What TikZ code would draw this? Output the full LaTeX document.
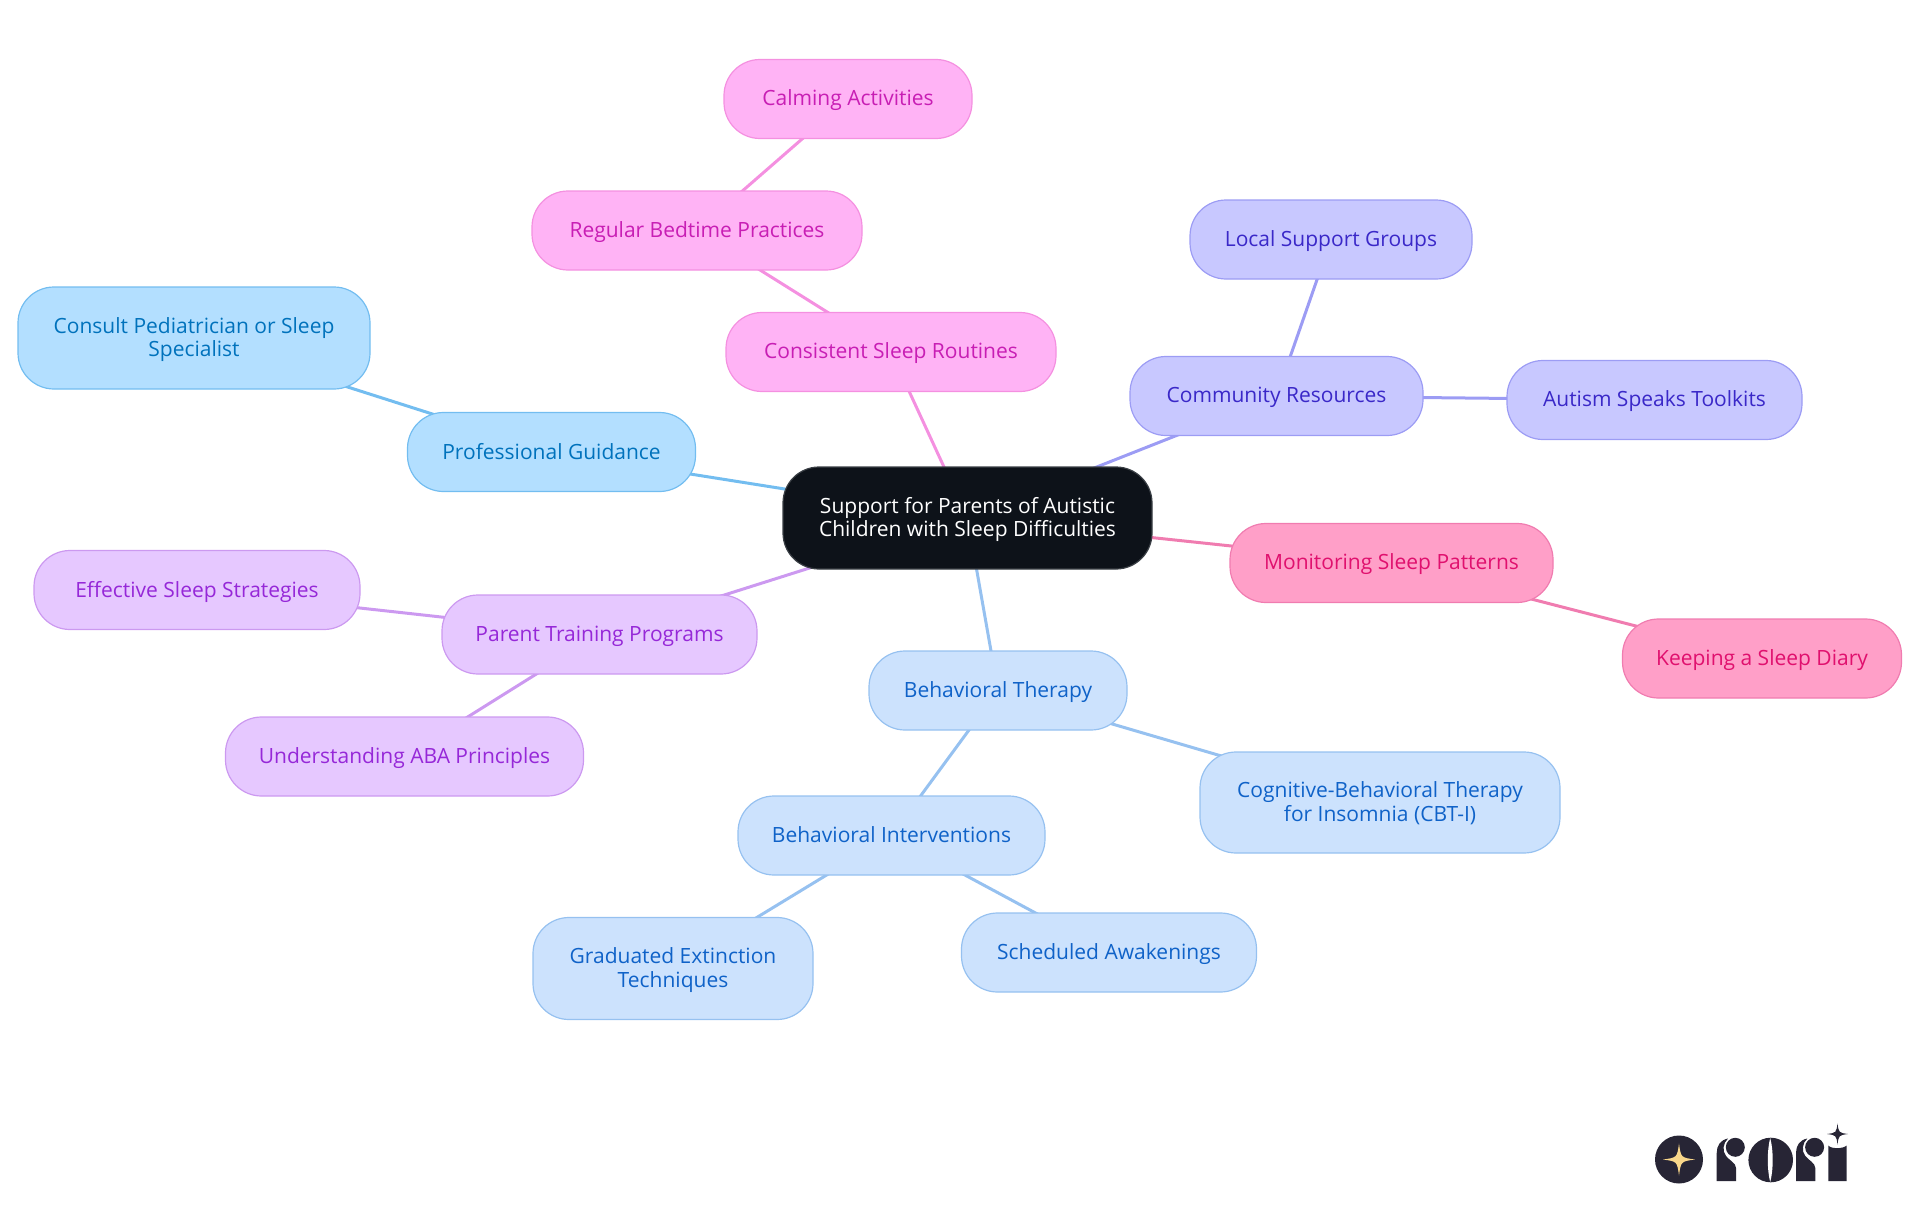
\documentclass[tikz,border=0pt]{standalone}
\usepackage{fontspec}
\setmainfont{Open Sans}
\usetikzlibrary{backgrounds}

\definecolor{blueFill}{HTML}{B3DFFF}
\definecolor{blueLine}{HTML}{73BDF0}
\definecolor{blueText}{HTML}{0072BC}
\definecolor{pinkFill}{HTML}{FFB3F5}
\definecolor{pinkLine}{HTML}{F490E0}
\definecolor{pinkText}{HTML}{C81EB4}
\definecolor{indigoFill}{HTML}{C8C8FF}
\definecolor{indigoLine}{HTML}{9C9CF4}
\definecolor{indigoText}{HTML}{3A28C8}
\definecolor{roseFill}{HTML}{FF9FC8}
\definecolor{roseLine}{HTML}{F07CB0}
\definecolor{roseText}{HTML}{E0106E}
\definecolor{purpleFill}{HTML}{E6C8FF}
\definecolor{purpleLine}{HTML}{CC99F0}
\definecolor{purpleText}{HTML}{9628D8}
\definecolor{skyFill}{HTML}{CCE2FD}
\definecolor{skyLine}{HTML}{96C1F0}
\definecolor{skyText}{HTML}{0F62C8}
\definecolor{rootFill}{HTML}{0D1219}
\definecolor{rootLine}{HTML}{3A3F45}
\definecolor{logoDark}{HTML}{272535}
\definecolor{logoStar}{HTML}{F9D78A}

\tikzset{
    mapnode/.style={draw, line width=1.2pt, rounded corners=36pt, inner sep=0pt, align=center,
        text depth=2pt, font=\fontsize{21}{23.5}\selectfont},
    root/.style={mapnode, fill=rootFill, draw=rootLine, text=white},
    blueBox/.style={mapnode, fill=blueFill, draw=blueLine, text=blueText},
    pinkBox/.style={mapnode, fill=pinkFill, draw=pinkLine, text=pinkText},
    indigoBox/.style={mapnode, fill=indigoFill, draw=indigoLine, text=indigoText},
    roseBox/.style={mapnode, fill=roseFill, draw=roseLine, text=roseText},
    purpleBox/.style={mapnode, fill=purpleFill, draw=purpleLine, text=purpleText},
    skyBox/.style={mapnode, fill=skyFill, draw=skyLine, text=skyText},
    link/.style={line width=3pt}
}

% four pointed star of the logo: x, y, radius, colour
\newcommand{\sparkle}[4]{
    \fill[#4, shift={(#1,#2)}] (0,-#3) .. controls (0.12*#3,-0.12*#3) .. (#3,0)
        .. controls (0.12*#3,0.12*#3) .. (0,#3)
        .. controls (-0.12*#3,0.12*#3) .. (-#3,0)
        .. controls (-0.12*#3,-0.12*#3) .. cycle;
}

% r of the logo, shifted by the given x
\newcommand{\logoR}[1]{
    \begin{scope}[shift={(#1,0)}]
        \fill[logoDark] (1716.7,1181) -- (1716.7,1153) .. controls (1716.7,1146) and (1720,1140) .. (1728,1138.5)
            .. controls (1723,1143) and (1722,1151) .. (1726,1156) .. controls (1729,1160) and (1736,1163) .. (1736,1168)
            -- (1736,1181) -- cycle;
        \fill[logoDark] (1735.3,1147.3) circle (9.5);
    \end{scope}
}

\begin{document}
\begin{tikzpicture}[x=1pt, y=-1pt]
    \useasboundingbox (0,0) rectangle (1920,1215);

    % Root of the map
    \node[root, minimum width=369pt, minimum height=102pt] (support) at (967.5,518) {Support for Parents of Autistic\\Children with Sleep Difficulties};

    % Professional guidance branch
    \node[blueBox, minimum width=288pt, minimum height=79pt] (guidance) at (551.5,452) {Professional Guidance};
    \node[blueBox, minimum width=352pt, minimum height=102pt] (consult) at (194,338) {Consult Pediatrician or Sleep\\Specialist};

    % Sleep routines branch
    \node[pinkBox, minimum width=330pt, minimum height=79pt] (routines) at (891,352) {Consistent Sleep Routines};
    \node[pinkBox, minimum width=330pt, minimum height=79pt] (bedtime) at (697,230.5) {Regular Bedtime Practices};
    \node[pinkBox, minimum width=248pt, minimum height=79pt] (calming) at (848,99) {Calming Activities};

    % Community branch
    \node[indigoBox, minimum width=293pt, minimum height=79pt] (community) at (1276.5,396) {Community Resources};
    \node[indigoBox, minimum width=282pt, minimum height=79pt] (groups) at (1331,239.5) {Local Support Groups};
    \node[indigoBox, minimum width=295pt, minimum height=79pt] (toolkits) at (1654.5,400) {Autism Speaks Toolkits};

    % Monitoring branch
    \node[roseBox, minimum width=323pt, minimum height=79pt] (monitoring) at (1391.5,563) {Monitoring Sleep Patterns};
    \node[roseBox, minimum width=279pt, minimum height=79pt] (diary) at (1762,658.5) {Keeping a Sleep Diary};

    % Parent training branch
    \node[purpleBox, minimum width=315pt, minimum height=79pt] (training) at (599.5,634.5) {Parent Training Programs};
    \node[purpleBox, minimum width=326pt, minimum height=79pt] (strategies) at (197,590) {Effective Sleep Strategies};
    \node[purpleBox, minimum width=358pt, minimum height=79pt] (principles) at (404.5,756.5) {Understanding ABA Principles};

    % Behavioral therapy branch
    \node[skyBox, minimum width=258pt, minimum height=79pt] (therapy) at (998,690.5) {Behavioral Therapy};
    \node[skyBox, minimum width=360pt, minimum height=101pt] (cbt) at (1380,802.5) {Cognitive-Behavioral Therapy\\for Insomnia (CBT-I)};
    \node[skyBox, minimum width=307pt, minimum height=79pt] (interventions) at (891.5,835.5) {Behavioral Interventions};
    \node[skyBox, minimum width=280pt, minimum height=102pt] (extinction) at (673,968.5) {Graduated Extinction\\Techniques};
    \node[skyBox, minimum width=295pt, minimum height=79pt] (awakenings) at (1109,952.5) {Scheduled Awakenings};

    % Links run from centre to centre, behind the boxes
    \begin{scope}[on background layer]
        \draw[link, blueLine] (support.center) -- (guidance.center);
        \draw[link, blueLine] (guidance.center) -- (consult.center);
        \draw[link, pinkLine] (support.center) -- (routines.center);
        \draw[link, pinkLine] (routines.center) -- (bedtime.center);
        \draw[link, pinkLine] (bedtime.center) -- (calming.center);
        \draw[link, indigoLine] (support.center) -- (community.center);
        \draw[link, indigoLine] (community.center) -- (groups.center);
        \draw[link, indigoLine] (community.center) -- (toolkits.center);
        \draw[link, roseLine] (support.center) -- (monitoring.center);
        \draw[link, roseLine] (monitoring.center) -- (diary.center);
        \draw[link, purpleLine] (support.center) -- (training.center);
        \draw[link, purpleLine] (training.center) -- (strategies.center);
        \draw[link, purpleLine] (training.center) -- (principles.center);
        \draw[link, skyLine] (support.center) -- (therapy.center);
        \draw[link, skyLine] (therapy.center) -- (cbt.center);
        \draw[link, skyLine] (therapy.center) -- (interventions.center);
        \draw[link, skyLine] (interventions.center) -- (extinction.center);
        \draw[link, skyLine] (interventions.center) -- (awakenings.center);
    \end{scope}

    % Logo
    \fill[logoDark] (1679,1159.5) circle (24);
    \sparkle{1679}{1159.5}{16}{logoStar}
    \logoR{0}
    \fill[logoDark] (1770.7,1160) circle (22.3);
    \fill[white] (1770.2,1138) .. controls (1773.5,1150) and (1773.5,1170) .. (1770.2,1182)
        .. controls (1767,1170) and (1767,1150) .. cycle;
    \logoR{79.3}
    \fill[logoDark] (1828.3,1181) -- (1828.3,1145.5) .. controls (1831,1149) and (1843,1149) .. (1846.7,1145.5) -- (1846.7,1181) -- cycle;
    \sparkle{1837.5}{1134}{10.5}{logoDark}
\end{tikzpicture}
\end{document}
